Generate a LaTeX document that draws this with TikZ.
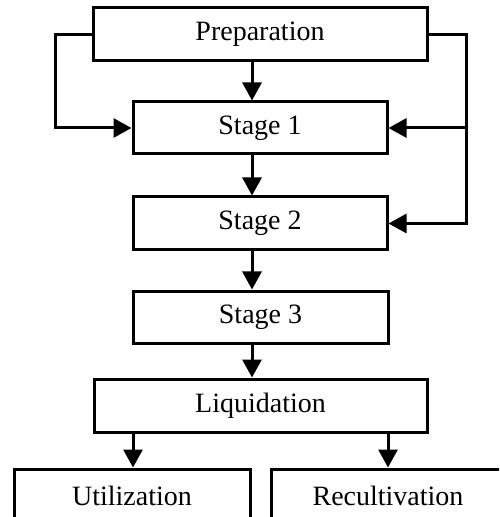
\documentclass[tikz,border=0pt]{standalone}
\usepackage{fontspec}
\setmainfont{Liberation Serif}
\usetikzlibrary{arrows.meta}
\begin{document}
\begin{tikzpicture}[x=0.5pt,y=-0.5pt,
  box/.style={draw, line width=1.5pt, inner sep=0pt, font=\fontsize{14}{16}\selectfont},
  conn/.style={line width=1.5pt},
  arr/.style={conn, -{Triangle[width=9.5pt,length=9pt]}}]
\useasboundingbox (0,0) rectangle (499,517);
\clip (0,0) rectangle (499,517);
\fill[white] (0,0) rectangle (499,517);
\node[box, minimum width=167pt, minimum height=26.5pt] (prep) at (260,34.5) {Preparation};
\node[box, minimum width=127pt, minimum height=26pt] (s1) at (260,128) {Stage 1};
\node[box, minimum width=127pt, minimum height=26.5pt] (s2) at (260,223.5) {Stage 2};
\node[box, minimum width=127.5pt, minimum height=26pt] (s3) at (260.5,317) {Stage 3};
\node[box, minimum width=166.5pt, minimum height=26.5pt] (liq) at (260.5,405.5) {Liquidation};
\node[box, minimum width=118pt, minimum height=26.5pt] (util) at (132,495.5) {Utilization};
\node[box, minimum width=117pt, minimum height=26.5pt] (rec) at (388,495.5) {Recultivation};
\coordinate (ax) at (252,0);
\coordinate (lx) at (55,0);
\coordinate (rx) at (466,0);
\coordinate (ul) at (133,0);
\coordinate (ur) at (388,0);
\draw[arr] (prep.south -| ax) -- (s1.north -| ax);
\draw[arr] (s1.south -| ax) -- (s2.north -| ax);
\draw[arr] (s2.south -| ax) -- (s3.north -| ax);
\draw[arr] (s3.south -| ax) -- (liq.north -| ax);
\draw[arr] (liq.south -| ul) -- (util.north -| ul);
\draw[arr] (liq.south -| ur) -- (rec.north -| ur);
\draw[arr] (prep.west) -- (prep.west -| lx) |- (s1.west);
\draw[arr] (prep.east) -- (prep.east -| rx) |- (s2.east);
\draw[arr] (s1.east -| rx) -- (s1.east);
\end{tikzpicture}
\end{document}
